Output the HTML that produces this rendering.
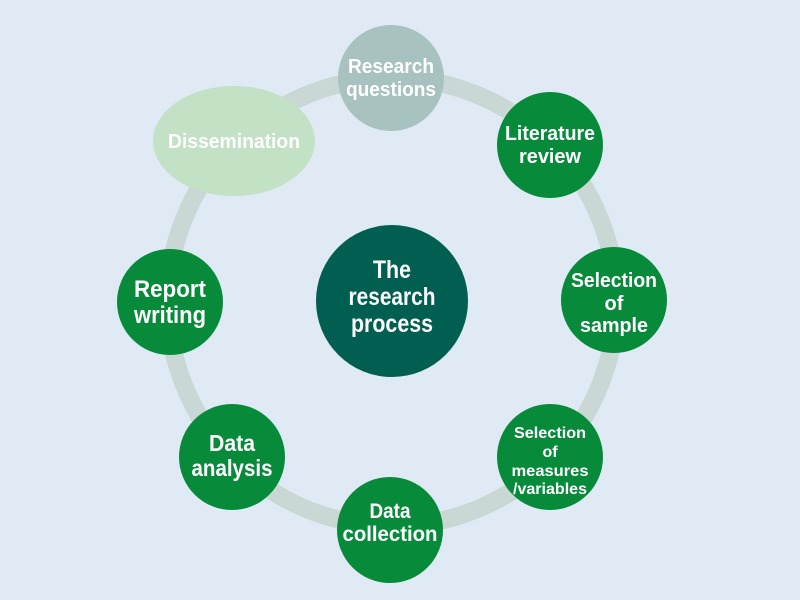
<!DOCTYPE html>
<html><head><style>
html,body{margin:0;padding:0;background:#dfeaf4;}
svg{display:block}
text{font-family:"Liberation Sans",sans-serif;font-weight:bold;fill:#fff;text-anchor:middle}
</style></head><body>
<svg width="800" height="600" viewBox="0 0 800 600">
<rect width="800" height="600" fill="#dfeaf4"/>
<circle cx="392" cy="302" r="224" fill="none" stroke="#c9d8d5" stroke-width="18"/>
<circle cx="391" cy="78" r="53" fill="#a8c2c0"/>
<text x="391" y="73" font-size="20" textLength="86" lengthAdjust="spacingAndGlyphs">Research</text>
<text x="391" y="96" font-size="20" textLength="90" lengthAdjust="spacingAndGlyphs">questions</text>
<ellipse cx="234" cy="141" rx="81" ry="55" fill="#c3e1c4"/>
<text x="234" y="148" font-size="20" textLength="132" lengthAdjust="spacingAndGlyphs">Dissemination</text>
<circle cx="550" cy="145" r="53" fill="#078b3a"/>
<text x="550" y="140" font-size="20" textLength="90" lengthAdjust="spacingAndGlyphs">Literature</text>
<text x="550" y="163" font-size="20" textLength="62" lengthAdjust="spacingAndGlyphs">review</text>
<circle cx="614" cy="300" r="53" fill="#078b3a"/>
<text x="614" y="287" font-size="20" textLength="86" lengthAdjust="spacingAndGlyphs">Selection</text>
<text x="614" y="310" font-size="20">of</text>
<text x="614" y="332" font-size="20" textLength="68" lengthAdjust="spacingAndGlyphs">sample</text>
<circle cx="550" cy="457" r="53" fill="#078b3a"/>
<text x="550" y="438" font-size="16" textLength="72" lengthAdjust="spacingAndGlyphs">Selection</text>
<text x="550" y="457" font-size="16">of</text>
<text x="550" y="476" font-size="16" textLength="77" lengthAdjust="spacingAndGlyphs">measures</text>
<text x="550" y="494" font-size="16" textLength="74" lengthAdjust="spacingAndGlyphs">/variables</text>
<circle cx="390" cy="530" r="53" fill="#078b3a"/>
<text x="390" y="518" font-size="21" textLength="41" lengthAdjust="spacingAndGlyphs">Data</text>
<text x="390" y="541" font-size="21" textLength="95" lengthAdjust="spacingAndGlyphs">collection</text>
<circle cx="232" cy="457" r="53" fill="#078b3a"/>
<text x="232" y="451" font-size="23" textLength="46" lengthAdjust="spacingAndGlyphs">Data</text>
<text x="232" y="476" font-size="23" textLength="81" lengthAdjust="spacingAndGlyphs">analysis</text>
<circle cx="170" cy="302" r="53" fill="#078b3a"/>
<text x="170" y="297" font-size="24" textLength="72" lengthAdjust="spacingAndGlyphs">Report</text>
<text x="170" y="323" font-size="24" textLength="72" lengthAdjust="spacingAndGlyphs">writing</text>
<circle cx="392" cy="301" r="76" fill="#005f51"/>
<text x="392" y="278" font-size="25" textLength="38" lengthAdjust="spacingAndGlyphs">The</text>
<text x="392" y="305" font-size="25" textLength="87" lengthAdjust="spacingAndGlyphs">research</text>
<text x="392" y="332" font-size="25" textLength="82" lengthAdjust="spacingAndGlyphs">process</text>
</svg>
</body></html>
